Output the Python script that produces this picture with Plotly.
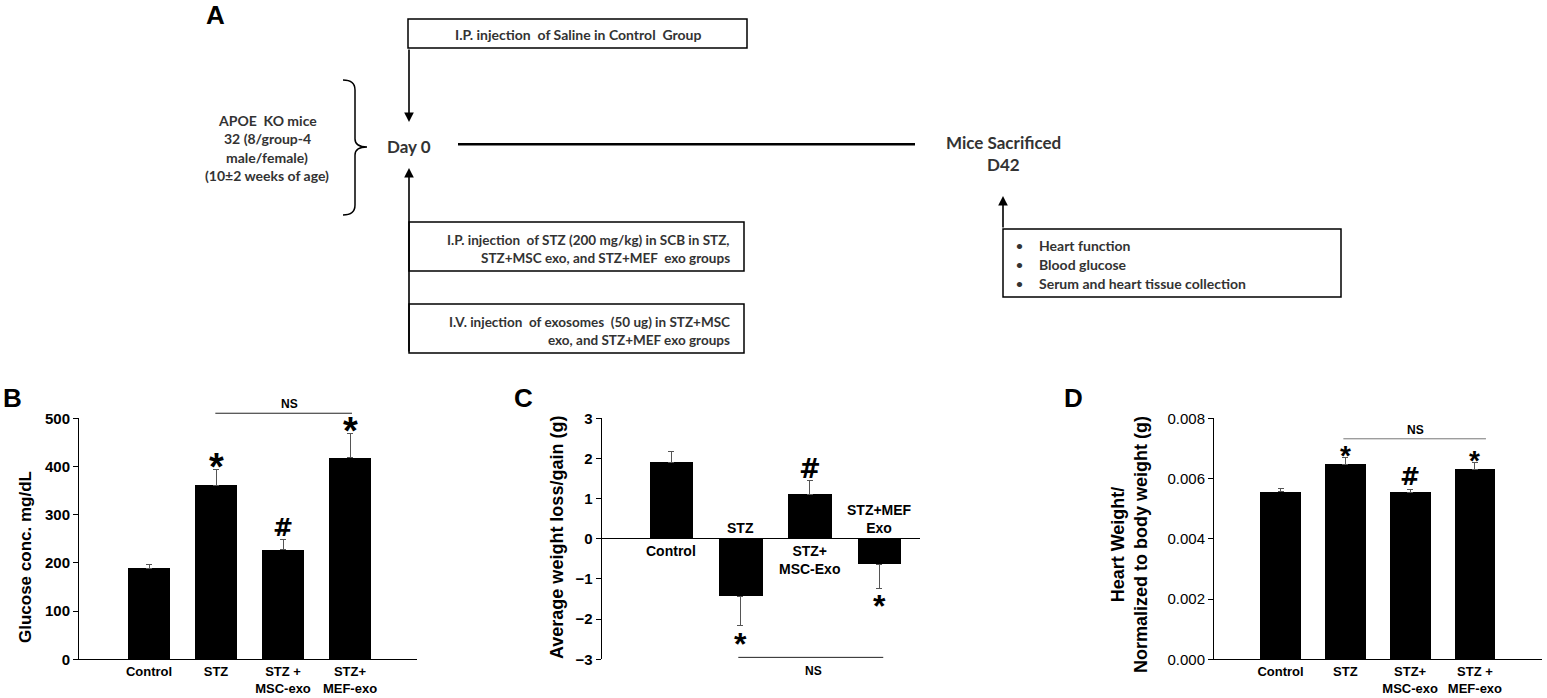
import plotly.graph_objects as go

W, H = 1547, 698

# Panel B - blood glucose
groups_b = ["Control", "STZ", "STZ +<br>MSC-exo", "STZ+<br>MEF-exo"]
glucose = [188, 361, 227, 418]
glucose_sem = [8, 33, 21, 51]
marks_b = ["", "*", "#", "*"]

# Panel C - weight loss/gain
groups_c = ["Control", "STZ", "STZ+<br>MSC-Exo", "STZ+MEF<br>Exo"]
weight = [1.91, -1.44, 1.10, -0.63]
weight_sem = [0.27, 0.72, 0.35, 0.60]
marks_c = ["", "*", "#", "*"]

# Panel D - heart weight / body weight
groups_d = ["Control", "STZ", "STZ+<br>MSC-exo", "STZ +<br>MEF-exo"]
heart = [0.00556, 0.00646, 0.00553, 0.00631]
heart_sem = [0.00010, 0.00025, 0.00012, 0.00022]
marks_d = ["", "*", "#", "*"]

ARIAL = "Liberation Sans"
CALIBRI = "Lato"
GREY = "#333333"


def px(x):
    return x / W


def py(y):
    return 1 - y / H


fig = go.Figure()


def add_bars(x, y, err, xa, ya):
    up = [e if v >= 0 else 0 for v, e in zip(y, err)]
    dn = [e if v < 0 else 0 for v, e in zip(y, err)]
    fig.add_trace(go.Bar(
        x=x, y=y, xaxis=xa, yaxis=ya, width=0.63,
        marker=dict(color="black", line_width=0),
        error_y=dict(type="data", symmetric=False, array=up, arrayminus=dn,
                     color="#555555", thickness=1, width=3),
        showlegend=False, hoverinfo="skip"))


add_bars(groups_b, glucose, glucose_sem, "x", "y")
add_bars(groups_c, weight, weight_sem, "x2", "y2")
add_bars(groups_d, heart, heart_sem, "x3", "y3")

ann = []
shp = []

# significance marks
star_size = {"x": 38, "x2": 32, "x3": 28}
hash_size = {"x": 24, "x2": 26, "x3": 24}
for groups, vals, errs, marks, xa, ya in [
        (groups_b, glucose, glucose_sem, marks_b, "x", "y"),
        (groups_c, weight, weight_sem, marks_c, "x2", "y2"),
        (groups_d, heart, heart_sem, marks_d, "x3", "y3")]:
    for g, v, e, m in zip(groups, vals, errs, marks):
        if not m:
            continue
        end = v + e if v >= 0 else v - e
        if m == "*":
            fam, size = ARIAL, star_size[xa]
            shift = 2 if v >= 0 else -18
        else:
            fam, size = "DejaVu Sans", hash_size[xa]
            shift = 12
        ann.append(dict(x=g, y=end, xref=xa, yref=ya, text=m, showarrow=False,
                        xanchor="center", yanchor="middle", yshift=shift,
                        font=dict(family=fam, size=size, color="black", weight="bold")))

# NS brackets
for xa, ya, x0, x1, yd, tx, tyshift, col in [
        ("x", "y", 0.99, 3.03, 1.021, 2.1, 9, "#222222"),
        ("x2", "y2", 0.97, 3.06, 0.008, 2.05, -14, "#222222"),
        ("x3", "y3", 0.97, 3.17, 0.915, 2.08, 9, "#777777")]:
    shp.append(dict(type="line", xref=xa, yref=ya + " domain", x0=x0, x1=x1, y0=yd, y1=yd,
                    line=dict(color=col, width=1)))
    ann.append(dict(x=tx, y=yd, xref=xa, yref=ya + " domain", text="NS", showarrow=False,
                    xanchor="center", yanchor="middle", yshift=tyshift,
                    font=dict(family=ARIAL, size=12, color="black", weight="bold")))

# bar labels in panel C (placed on the other side of the zero line)
for g, v in zip(groups_c, weight):
    ann.append(dict(x=g, y=0, xref="x2", yref="y2", text=g, showarrow=False,
                    xanchor="center", yanchor="top" if v >= 0 else "bottom",
                    yshift=-2 if v >= 0 else 1,
                    font=dict(family=ARIAL, size=14, color="black", weight="bold")))


def label(s, x, y, size, family=ARIAL, color="black", anchor="center", angle=0, weight="bold"):
    ann.append(dict(x=px(x), y=py(y), xref="paper", yref="paper", text=s, showarrow=False,
                    xanchor=anchor, yanchor="middle", textangle=angle,
                    font=dict(family=family, size=size, color=color, weight=weight)))


# axis titles
label("Glucose conc. mg/dL", 25, 557, 17, angle=-90)
label("Average weight loss/gain (g)", 557, 538, 18, angle=-90)
label("Heart Weight/<br>Normalized to body weight (g)", 1129, 545, 18, angle=-90)

# panel letters
for letter, x, y in [("A", 215, 15), ("B", 12, 398), ("C", 523, 398), ("D", 1073, 398)]:
    label(letter, x, y, 26)


# ---- panel A: study design ----
def box(x0, y0, x1, y1):
    shp.append(dict(type="rect", xref="paper", yref="paper", x0=px(x0), x1=px(x1),
                    y0=py(y0), y1=py(y1), line=dict(color="black", width=1.5)))


def txt(s, x, y, size=13.5, anchor="center"):
    label(s, x, y, size, family=CALIBRI, color=GREY, anchor=anchor)


def arrow(x, y_tail, y_head):
    ann.append(dict(x=px(x), y=py(y_head), xref="paper", yref="paper", ax=0, ay=y_tail - y_head,
                    text="", showarrow=True, arrowhead=2, arrowsize=1.2, arrowwidth=1.6,
                    arrowcolor="black"))


box(408, 19, 747, 48)
txt("I.P. injection&nbsp; of Saline in Control&nbsp; Group", 578, 34, size=14)
arrow(409, 48, 122)

# brace
shp.append(dict(type="path", xref="paper", yref="paper",
                path=("M {a},{b} Q {c},{b} {c},{d} L {c},{e} Q {c},{f} {g},{f} "
                      "Q {c},{f} {c},{h} L {c},{i} Q {c},{j} {a},{j}").format(
                    a=px(343), b=py(80), c=px(355), d=py(90), e=py(139), f=py(147),
                    g=px(367), h=py(155), i=py(205), j=py(215)),
                line=dict(color="black", width=1.5)))
for s, y in zip(["APOE&nbsp; KO mice", "32 (8/group-4", "male/female)", "(10\u00b12 weeks of age)"],
                [121, 139, 157, 176]):
    txt(s, 267, y, size=14)

txt("Day 0", 409, 146, size=17)
shp.append(dict(type="line", xref="paper", yref="paper", x0=px(458), x1=px(915),
                y0=py(144.3), y1=py(144.3), line=dict(color="black", width=2.5)))
txt("Mice Sacrificed", 1003, 142, size=17)
txt("D42", 1003, 165, size=17)

arrow(409, 353, 168)
box(409, 222, 744, 271)
txt("I.P. injection&nbsp; of STZ (200 mg/kg) in SCB in STZ,", 732, 240, anchor="right")
txt("STZ+MSC exo, and STZ+MEF&nbsp; exo groups", 732, 258, anchor="right")
box(409, 304, 744, 353)
txt("I.V. injection&nbsp; of exosomes&nbsp; (50 ug) in STZ+MSC", 732, 322, anchor="right")
txt("exo, and STZ+MEF exo groups", 732, 340, anchor="right")

arrow(1003, 229, 196)
box(1003, 229, 1341, 297)
for s, y in zip(["Heart function", "Blood glucose", "Serum and heart tissue collection"],
                [246, 264, 283]):
    txt("\u2022", 1019, y, size=12)
    txt(s, 1037, y, size=14, anchor="left")

# ---- axes ----
xcommon = dict(type="category", showgrid=False, zeroline=False, ticks="", automargin=False,
               tickfont=dict(family=ARIAL, size=13, color="black", weight="bold"))
ycommon = dict(showgrid=False, showline=True, linecolor="black", linewidth=1, automargin=False,
               ticks="outside", ticklen=5, tickcolor="black",
               tickfont=dict(family=ARIAL, size=15, color="black", weight="bold"))
ydom = [py(659.3), py(418.3)]

fig.update_layout(
    template="none",
    width=W, height=H, margin=dict(l=0, r=0, t=0, b=0, pad=0), autosize=False,
    paper_bgcolor="white", plot_bgcolor="rgba(0,0,0,0)",
    bargap=0,
    xaxis=dict(xcommon, domain=[px(79), px(417)], anchor="y", range=[-1.045, 4.0],
               showline=True, linecolor="black", linewidth=1,
               categoryorder="array", categoryarray=groups_b),
    yaxis=dict(ycommon, domain=ydom, anchor="x", range=[0, 500], dtick=100),
    xaxis2=dict(xcommon, domain=[px(601.7), px(920)], anchor="y2", range=[-1.0, 3.59],
                showline=False, showticklabels=False,
                categoryorder="array", categoryarray=groups_c),
    yaxis2=dict(ycommon, domain=ydom, anchor="x2", range=[-3, 3], dtick=1,
                zeroline=True, zerolinecolor="black", zerolinewidth=1),
    xaxis3=dict(xcommon, domain=[px(1214), px(1541.7)], anchor="y3", range=[-1.026, 4.03],
                showline=True, linecolor="black", linewidth=1,
                categoryorder="array", categoryarray=groups_d),
    yaxis3=dict(ycommon, domain=ydom, anchor="x3", range=[0, 0.008], dtick=0.002,
                tickformat=".3f",
                tickfont=dict(family=ARIAL, size=15, color="black")),
    annotations=ann,
    shapes=shp,
)

fig.write_html("out.html", config={"displayModeBar": False},
               post_script="document.body.style.margin='0';")
